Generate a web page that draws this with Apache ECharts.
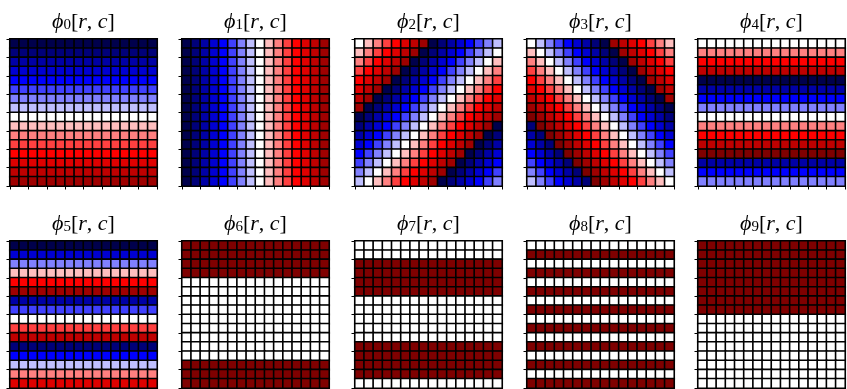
<!DOCTYPE html>
<html>
<head>
<meta charset="utf-8">
<script src="https://cdn.jsdelivr.net/npm/echarts@6/dist/echarts.min.js"></script>
<style>
  html, body { margin: 0; padding: 0; background: #fff; }
  #chart { width: 847px; height: 389px; }
</style>
</head>
<body>
<div id="chart"></div>
<script>
// values are in units of 1/8, so -8 .. 8 covers the -1 .. 1 colour range
const idx = ['0','1','2','3','4','5','6','7','8','9','10','11','12','13','14','15'];
const titles = ['0','1','2','3','4','5','6','7','8','9'];

// per-row profiles (top to bottom), same value across every column
const phi0Rows = [-8,-7,-6,-5,-4,-3,-2,-1,0,1,2,3,4,5,6,7];
const phi4Rows = [0,2,4,6,-8,-6,-4,-2,0,2,4,6,8,-6,-4,-2];
const phi5Rows = [-8,-5,-2,1,4,7,-6,-3,0,3,6,-7,-4,-1,2,5];
const phi6Rows = [8,8,8,8,0,0,0,0,0,0,0,0,0,8,8,8];
const phi7Rows = [0,0,8,8,8,8,0,0,0,0,0,8,8,8,8,0];
const phi8Rows = [0,8,0,8,0,8,0,8,0,8,0,8,0,8,0,8];
const phi9Rows = [8,8,8,8,8,8,8,8,0,0,0,0,0,0,0,0];
// per-column profile (left to right), same value down every row
const phi1Cols = [-8,-7,-6,-5,-4,-3,-2,-1,0,1,2,3,4,5,6,7];

const phi2 = [
  [0,1,2,3,4,5,6,7,-8,-7,-6,-5,-4,-3,-2,-1],
  [1,2,3,4,5,6,7,-8,-7,-6,-5,-4,-3,-2,-1,0],
  [2,3,4,5,6,7,-8,-7,-6,-5,-4,-3,-2,-1,0,1],
  [3,4,5,6,7,-8,-7,-6,-5,-4,-3,-2,-1,0,1,2],
  [4,5,6,7,-8,-7,-6,-5,-4,-3,-2,-1,0,1,2,3],
  [5,6,7,-8,-7,-6,-5,-4,-3,-2,-1,0,1,2,3,4],
  [6,7,-8,-7,-6,-5,-4,-3,-2,-1,0,1,2,3,4,5],
  [7,-8,-7,-6,-5,-4,-3,-2,-1,0,1,2,3,4,5,6],
  [-8,-7,-6,-5,-4,-3,-2,-1,0,1,2,3,4,5,6,7],
  [-7,-6,-5,-4,-3,-2,-1,0,1,2,3,4,5,6,7,-8],
  [-6,-5,-4,-3,-2,-1,0,1,2,3,4,5,6,7,-8,-7],
  [-5,-4,-3,-2,-1,0,1,2,3,4,5,6,7,-8,-7,-6],
  [-4,-3,-2,-1,0,1,2,3,4,5,6,7,-8,-7,-6,-5],
  [-3,-2,-1,0,1,2,3,4,5,6,7,-8,-7,-6,-5,-4],
  [-2,-1,0,1,2,3,4,5,6,7,-8,-7,-6,-5,-4,-3],
  [-1,0,1,2,3,4,5,6,7,-8,-7,-6,-5,-4,-3,-2]
];

const phi3 = [
  [0,-1,-2,-3,-4,-5,-6,-7,-8,7,6,5,4,3,2,1],
  [1,0,-1,-2,-3,-4,-5,-6,-7,-8,7,6,5,4,3,2],
  [2,1,0,-1,-2,-3,-4,-5,-6,-7,-8,7,6,5,4,3],
  [3,2,1,0,-1,-2,-3,-4,-5,-6,-7,-8,7,6,5,4],
  [4,3,2,1,0,-1,-2,-3,-4,-5,-6,-7,-8,7,6,5],
  [5,4,3,2,1,0,-1,-2,-3,-4,-5,-6,-7,-8,7,6],
  [6,5,4,3,2,1,0,-1,-2,-3,-4,-5,-6,-7,-8,7],
  [7,6,5,4,3,2,1,0,-1,-2,-3,-4,-5,-6,-7,-8],
  [8,7,6,5,4,3,2,1,0,-1,-2,-3,-4,-5,-6,-7],
  [-7,8,7,6,5,4,3,2,1,0,-1,-2,-3,-4,-5,-6],
  [-6,-7,8,7,6,5,4,3,2,1,0,-1,-2,-3,-4,-5],
  [-5,-6,-7,8,7,6,5,4,3,2,1,0,-1,-2,-3,-4],
  [-4,-5,-6,-7,8,7,6,5,4,3,2,1,0,-1,-2,-3],
  [-3,-4,-5,-6,-7,8,7,6,5,4,3,2,1,0,-1,-2],
  [-2,-3,-4,-5,-6,-7,8,7,6,5,4,3,2,1,0,-1],
  [-1,-2,-3,-4,-5,-6,-7,8,7,6,5,4,3,2,1,0]
];

function fromRows(rows) { return rows.map(v => idx.map(() => v)); }
function fromCols(cols) { return idx.map(() => cols.slice()); }

const panels = [
  fromRows(phi0Rows), fromCols(phi1Cols), phi2, phi3, fromRows(phi4Rows),
  fromRows(phi5Rows), fromRows(phi6Rows), fromRows(phi7Rows), fromRows(phi8Rows), fromRows(phi9Rows)
];

const lefts = [10, 182, 355, 527, 698];
const tops = [39, 241];
const size = 147;
const serif = "'Liberation Serif', 'DejaVu Serif', serif";

const chart = echarts.init(document.getElementById('chart'), null, {renderer: 'canvas'});

let grid = [], xAxis = [], yAxis = [], series = [], graphic = [];
panels.forEach((m, k) => {
    const left = lefts[k % 5];
    const top = tops[Math.floor(k / 5)];
    grid.push({left: left, top: top, width: size, height: size, show: true, borderColor: '#000', borderWidth: 1.5, backgroundColor: '#fff'});
    const tick = {show: true, inside: false, length: 3.5, lineStyle: {color: '#000', width: 1}};
    xAxis.push({type: 'category', gridIndex: k, data: idx, position: 'bottom',
        axisLine: {show: true, lineStyle: {color: '#000', width: 1.5}}, axisTick: tick,
        axisLabel: {show: false}, splitLine: {show: false}});
    yAxis.push({type: 'category', gridIndex: k, data: idx, inverse: true, position: 'left',
        axisLine: {show: true, lineStyle: {color: '#000', width: 1.5}}, axisTick: tick,
        axisLabel: {show: false}, splitLine: {show: false}});
    const data = [];
    m.forEach((row, r) => row.forEach((v, c) => data.push([c, r, v])));
    series.push({type: 'heatmap', xAxisIndex: k, yAxisIndex: k, data: data,
        itemStyle: {borderColor: '#000', borderWidth: 1.6},
        emphasis: {disabled: true}, animation: false});
    graphic.push({type: 'text', x: left + size / 2, y: top - 32,
        style: {
            text: '{p|ϕ}{s|' + titles[k] + '}{n|[}{i|r}{n|, }{i|c}{n|]}',
            align: 'center', verticalAlign: 'top',
            rich: {
                p: {fontFamily: serif, fontSize: 22, fontStyle: 'italic', lineHeight: 26, verticalAlign: 'bottom', fill: '#000'},
                s: {fontFamily: serif, fontSize: 15, lineHeight: 15, verticalAlign: 'bottom', fill: '#000'},
                n: {fontFamily: serif, fontSize: 22, lineHeight: 26, verticalAlign: 'bottom', fill: '#000'},
                i: {fontFamily: serif, fontSize: 22, fontStyle: 'italic', lineHeight: 26, verticalAlign: 'bottom', fill: '#000'}
            }
        }});
});

chart.setOption({
    animation: false,
    backgroundColor: '#fff',
    grid: grid,
    xAxis: xAxis,
    yAxis: yAxis,
    visualMap: {
        type: 'continuous', show: false, min: -8, max: 8,
        inRange: {color: ['#00004c', '#0000ff', '#ffffff', '#ff0000', '#7f0000']}
    },
    graphic: graphic,
    series: series
});
</script>
</body>
</html>
